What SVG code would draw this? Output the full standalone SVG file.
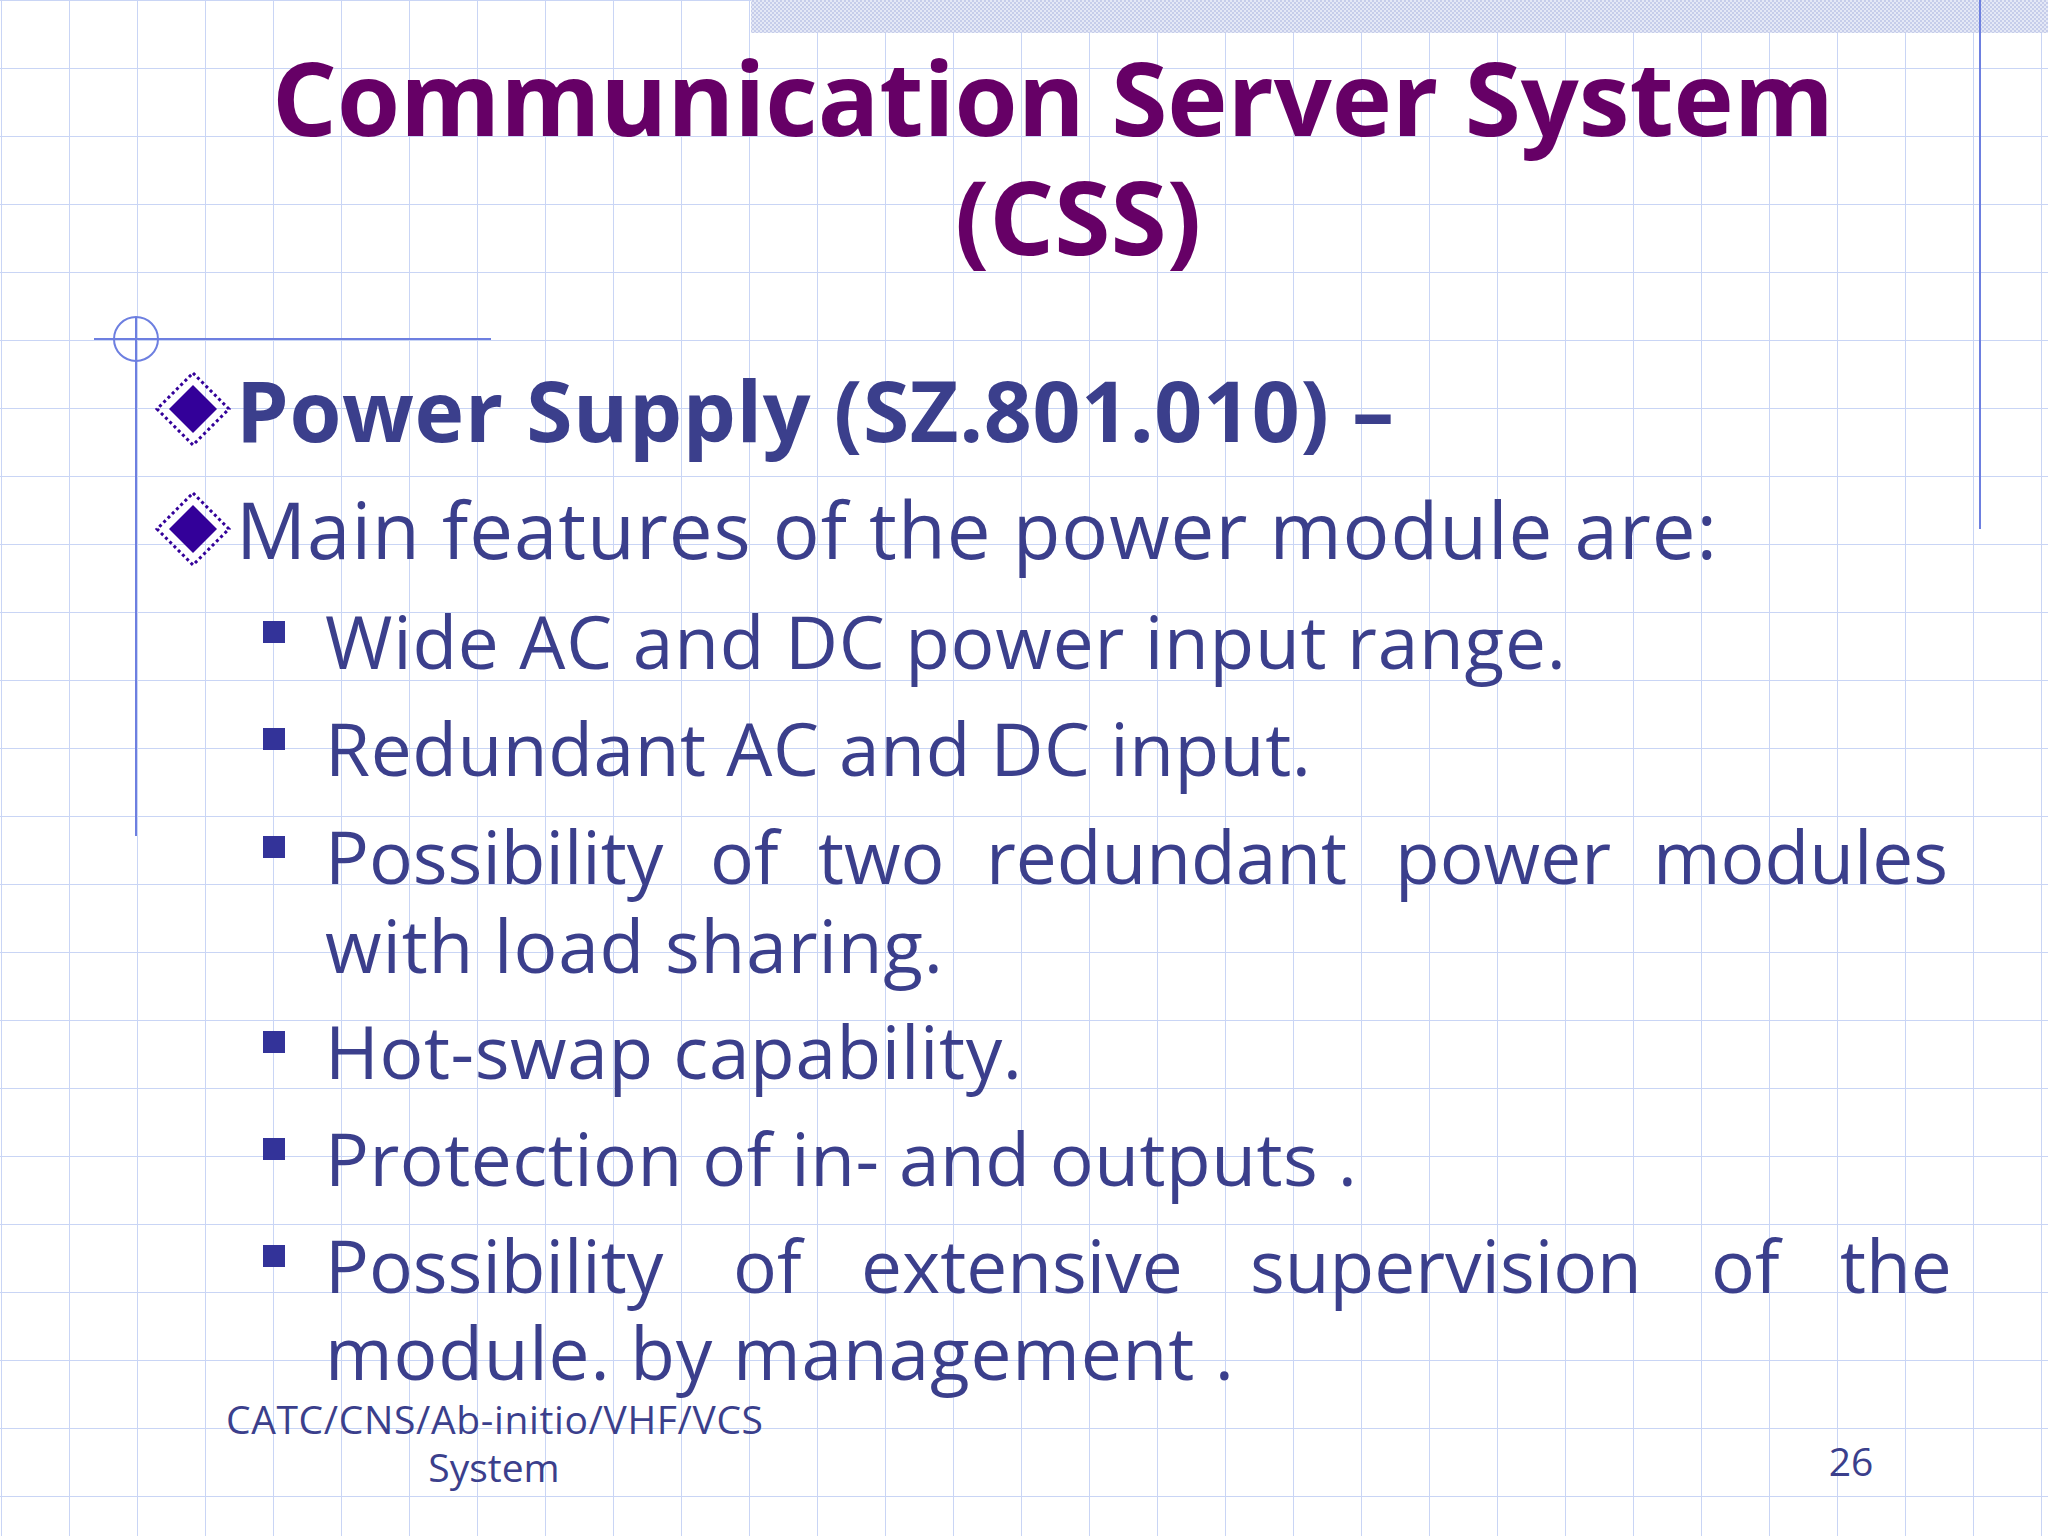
<svg xmlns="http://www.w3.org/2000/svg" width="2048" height="1536" viewBox="0 0 2048 1536">
<defs>
<pattern id="grid" x="1" y="0" width="68" height="68" patternUnits="userSpaceOnUse">
<path d="M0 0V68M0 0H68" stroke="#c9d5f5" stroke-width="2" fill="none"/>
</pattern>
<pattern id="dots" width="4" height="4" patternUnits="userSpaceOnUse">
<rect width="4" height="4" fill="#e4e8f6"/><rect width="2" height="2" fill="#c6cdea"/><rect x="2" y="2" width="2" height="2" fill="#c6cdea"/>
</pattern>
<g id="dia">
<polygon points="0,-36 36,0 0,36 -36,0" fill="none" stroke="#330099" stroke-width="3" stroke-dasharray="3 3"/>
<polygon points="0,-24 24,0 0,24 -24,0" fill="#330099"/>
</g>
<rect id="sq" width="22" height="22" fill="#333399"/>
</defs>
<style>
text{font-family:"Open Sans","Noto Sans","DejaVu Sans",sans-serif;fill:#3b3f8c}
.t{font-weight:bold;font-size:102px;fill:#660066;text-anchor:middle}
.b{font-size:78px}
.s{font-size:73px}
.f{font-size:39px}
</style>
<rect width="2048" height="1536" fill="#fff"/>
<rect width="2048" height="1536" fill="url(#grid)"/>
<rect x="751" y="0" width="1297" height="33" fill="url(#dots)"/>
<g stroke="#6d7fe0" stroke-width="2" fill="none">
<line x1="1980" y1="0" x2="1980" y2="529"/>
<line x1="136" y1="318" x2="136" y2="836"/>
<line x1="94" y1="339" x2="491" y2="339"/>
<circle cx="136" cy="339" r="22"/>
</g>
<g id="title">
<text class="t" x="1053" y="136" textLength="1562">Communication Server System</text>
<text class="t" x="1078" y="255">(CSS)</text>
</g>
<g id="bullets">
<use href="#dia" x="193" y="409"/>
<text x="236" y="442" font-weight="bold" font-size="84" textLength="1158">Power Supply (SZ.801.010) –</text>
<use href="#dia" x="193" y="529"/>
<text class="b" x="236" y="559" textLength="1481">Main features of the power module are:</text>
</g>
<g id="sub">
<use href="#sq" x="263" y="621"/>
<text class="s" x="325" y="669" textLength="1241">Wide AC and DC power input range.</text>
<use href="#sq" x="263" y="728"/>
<text class="s" x="325" y="776" textLength="986">Redundant AC and DC input.</text>
<use href="#sq" x="263" y="836"/>
<text class="s" y="884"><tspan x="325">Possibility</tspan><tspan x="710">of</tspan><tspan x="818">two</tspan><tspan x="986">redundant</tspan><tspan x="1395">power</tspan><tspan x="1653">modules</tspan></text>
<text class="s" x="325" y="973" textLength="618">with load sharing.</text>
<use href="#sq" x="263" y="1031"/>
<text class="s" x="325" y="1079" textLength="697">Hot-swap capability.</text>
<use href="#sq" x="263" y="1138"/>
<text class="s" x="325" y="1186" textLength="1032">Protection of in- and outputs .</text>
<use href="#sq" x="263" y="1245"/>
<text class="s" y="1293"><tspan x="325">Possibility</tspan><tspan x="733">of</tspan><tspan x="861">extensive</tspan><tspan x="1250">supervision</tspan><tspan x="1711">of</tspan><tspan x="1840">the</tspan></text>
<text class="s" x="325" y="1380" textLength="909">module. by management .</text>
</g>
<g id="footer">
<text class="f" x="226" y="1434" textLength="537">CATC/CNS/Ab-initio/VHF/VCS</text>
<text class="f" x="494" y="1482" text-anchor="middle">System</text>
<text class="f" x="1851" y="1476" text-anchor="middle">26</text>
</g>
</svg>
